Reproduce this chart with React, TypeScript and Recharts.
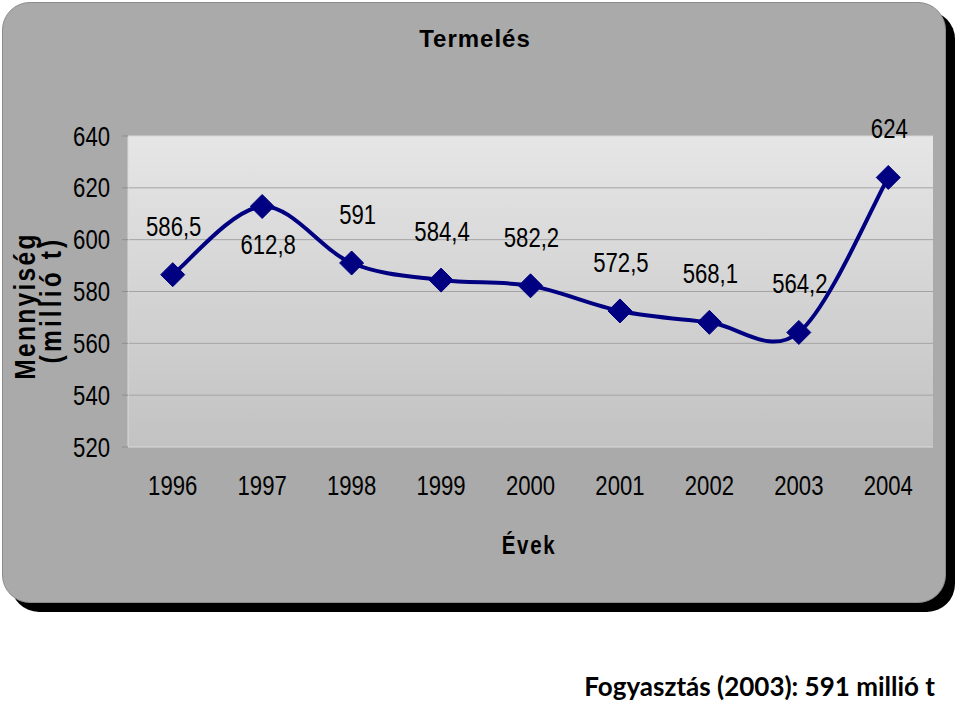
import React from 'react';
import { LineChart, Line, XAxis, YAxis, CartesianGrid, ReferenceLine } from 'recharts';

const years = ['1996', '1997', '1998', '1999', '2000', '2001', '2002', '2003', '2004'];
const production = [586.5, 612.8, 591, 584.4, 582.2, 572.5, 568.1, 564.2, 624];
const yTicks = [520, 540, 560, 580, 600, 620, 640];
const bandTicks = [0, 1, 2, 3, 4, 5, 6, 7, 8, 9];

const data = years.map((year, i) => ({ year, value: production[i] }));

const SANS = "'Liberation Sans', Arial, sans-serif";
const NAVY = '#000080';

// no Arial Narrow available: squeeze Liberation Sans horizontally instead
const Narrow = ({ x, y, rotate = 0, anchor = 'middle', size, bold, spacing = 0, dy = 0, children }: any) => (
  <text
    transform={`translate(${x},${y}) rotate(${rotate}) scale(0.82,1)`}
    textAnchor={anchor}
    fontFamily={SANS}
    fontWeight={bold ? 'bold' : 'normal'}
    fontSize={size}
    letterSpacing={spacing}
    dy={dy}
    fill="#000"
  >
    {children}
  </text>
);

// Excel-style smoothed line (uniform Catmull-Rom as cubic bezier)
function excelSmooth(context: any) {
  let pts: number[][] = [];
  return {
    areaStart() {},
    areaEnd() {},
    lineStart() {
      pts = [];
    },
    point(x: number, y: number) {
      pts.push([+x, +y]);
    },
    lineEnd() {
      if (!pts.length) return;
      context.moveTo(pts[0][0], pts[0][1]);
      for (let i = 0; i < pts.length - 1; i++) {
        const p0 = pts[i - 1] || pts[i];
        const p1 = pts[i];
        const p2 = pts[i + 1];
        const p3 = pts[i + 2] || p2;
        context.bezierCurveTo(
          p1[0] + (p2[0] - p0[0]) / 6,
          p1[1] + (p2[1] - p0[1]) / 6,
          p2[0] - (p3[0] - p1[0]) / 6,
          p2[1] - (p3[1] - p1[1]) / 6,
          p2[0],
          p2[1]
        );
      }
    },
  };
}

const Diamond = (props: any) => {
  const { cx, cy } = props;
  if (cx == null || cy == null) return null;
  const r = 12;
  return (
    <polygon
      points={`${cx},${cy - r} ${cx + r},${cy} ${cx},${cy + r} ${cx - r},${cy}`}
      fill={NAVY}
      stroke={NAVY}
      strokeWidth={1}
    />
  );
};

const ValueLabel = (props: any) => {
  const { x, y, value, index } = props;
  // the 1997 peak has its label under the point
  const below = index === 1;
  return (
    <Narrow x={x + (index === 1 || index === 2 ? 6 : 1)} y={below ? y + 48 : y - 39} size={27}>
      {String(value).replace('.', ',')}
    </Narrow>
  );
};

const XTick = (props: any) => {
  const { x, y, payload } = props;
  return (
    <Narrow x={x} y={y} size={27} dy="0.71em">
      {payload.value}
    </Narrow>
  );
};

const YTick = (props: any) => {
  const { x, y, payload } = props;
  return (
    <Narrow x={x} y={y} size={27} anchor="end" dy="0.355em">
      {payload.value}
    </Narrow>
  );
};

export default function App() {
  return (
    <div style={{ position: 'absolute', left: 0, top: 0, width: 960, height: 706, background: '#fff' }}>
      <div
        style={{
          position: 'absolute',
          left: 2,
          top: 2,
          width: 942,
          height: 599,
          background: '#aaaaaa',
          border: '1px solid #8c8c8c',
          borderRadius: 28,
          boxShadow: '9px 9px 0 #000',
        }}
      />
      <div style={{ position: 'absolute', left: 0, top: 0 }}>
        <LineChart
          width={960}
          height={706}
          data={data}
          margin={{ top: 136, right: 27, bottom: 218, left: 0 }}
        >
          <defs>
            <linearGradient id="plotBg" x1="0" y1="0" x2="0" y2="1">
              <stop offset="0%" stopColor="#e6e6e6" />
              <stop offset="100%" stopColor="#c2c2c2" />
            </linearGradient>
          </defs>
          <CartesianGrid
            vertical={false}
            horizontalValues={[540, 560, 580, 600, 620]}
            stroke="#a4a4a4"
            fill="url(#plotBg)"
            fillOpacity={1}
          />
          <XAxis
            xAxisId="cat"
            dataKey="year"
            scale="band"
            tickLine={false}
            axisLine={false}
            tickSize={0}
            tickMargin={28}
            height={40}
            interval={0}
            tick={<XTick />}
          />
          <XAxis
            xAxisId={0}
            type="number"
            domain={[0, 9]}
            ticks={bandTicks}
            allowDataOverflow
            tick={false}
            tickSize={8}
            tickLine={{ stroke: '#8e8e8e' }}
            axisLine={{ stroke: '#dadada' }}
            height={1}
          />
          <YAxis
            domain={[520, 640]}
            ticks={yTicks}
            interval={0}
            width={128}
            tickSize={6}
            tickMargin={12}
            tickLine={{ stroke: '#8e8e8e' }}
            axisLine={{ stroke: '#dadada' }}
            tick={<YTick />}
          />
          <YAxis
            yAxisId="right"
            orientation="right"
            domain={[520, 640]}
            width={0}
            tick={false}
            tickLine={false}
            axisLine={{ stroke: '#d2d2d2' }}
          />
          <ReferenceLine y={640} stroke="#d6d6d6" ifOverflow="extendDomain" />
          <Line
            xAxisId="cat"
            dataKey="value"
            type={excelSmooth as any}
            stroke={NAVY}
            strokeWidth={4}
            dot={<Diamond />}
            activeDot={false}
            label={<ValueLabel />}
            isAnimationActive={false}
          />
        </LineChart>
      </div>
      <svg
        width={960}
        height={706}
        style={{ position: 'absolute', left: 0, top: 0, pointerEvents: 'none' }}
      >
        <text
          x={475}
          y={47}
          textAnchor="middle"
          fontFamily={SANS}
          fontWeight="bold"
          fontSize={24}
          letterSpacing={1}
        >
          Termelés
        </text>
        <Narrow x={529} y={554} size={25} bold spacing={2}>
          Évek
        </Narrow>
        <Narrow x={35} y={306} rotate={-90} size={30} bold spacing={2.8}>
          Mennyiség
        </Narrow>
        <Narrow x={61} y={300} rotate={-90} size={30} bold spacing={3.8}>
          (millió t)
        </Narrow>
        <text
          x={935}
          y={696}
          textAnchor="end"
          fontFamily="Lato, 'Open Sans', sans-serif"
          fontWeight="bold"
          fontSize={26}
        >
          Fogyasztás (2003): 591 millió t
        </text>
      </svg>
    </div>
  );
}
